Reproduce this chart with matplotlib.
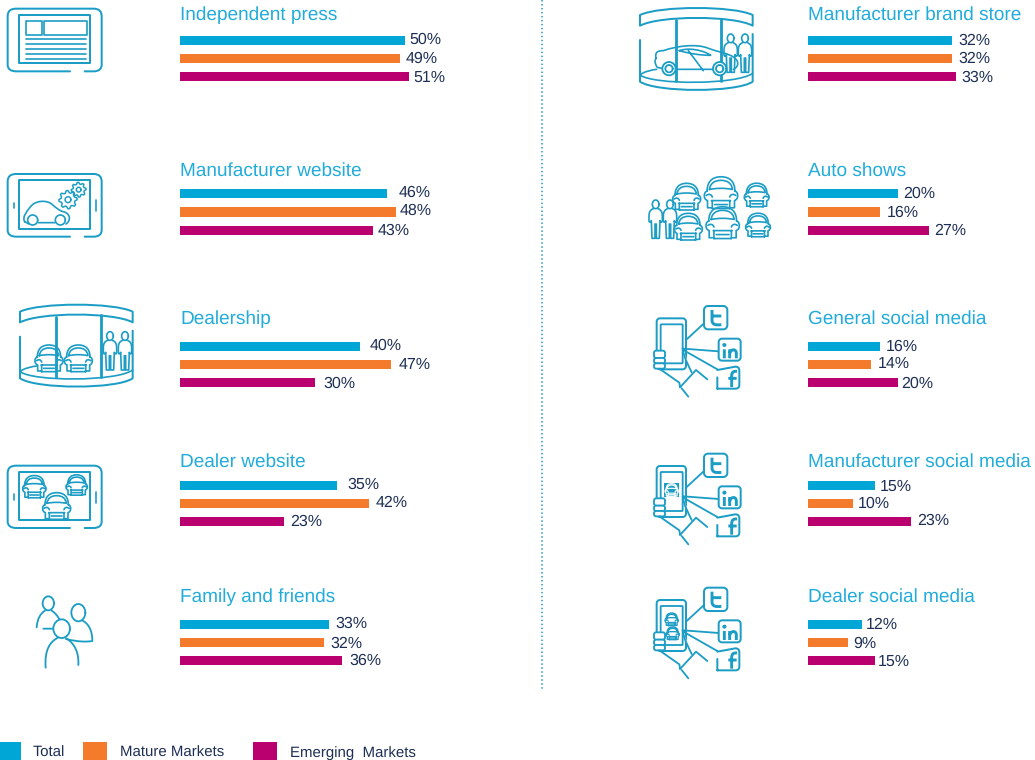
import re
import numpy as np
import matplotlib
matplotlib.use("Agg")
import matplotlib.pyplot as plt
from matplotlib.path import Path
from matplotlib.patches import PathPatch, Rectangle

plt.rcParams['font.family'] = ['Liberation Sans', 'DejaVu Sans']
plt.rcParams['text.hinting'] = 'no_hinting'
plt.rcParams['text.hinting_factor'] = 1

# ---------- data ----------
left_titles = ["Independent press", "Manufacturer website", "Dealership", "Dealer website", "Family and friends"]
right_titles = ["Manufacturer brand store", "Auto shows", "General social media", "Manufacturer social media", "Dealer social media"]
series_names = ["Total", "Mature Markets", "Emerging  Markets"]
total_left = [50, 46, 40, 35, 33]
mature_left = [49, 48, 47, 42, 32]
emerging_left = [51, 43, 30, 23, 36]
total_right = [32, 20, 16, 15, 12]
mature_right = [32, 16, 14, 10, 9]
emerging_right = [33, 27, 20, 23, 15]

# ---------- style / layout ----------
W, H = 1035, 760
C_SER = ["#00A6D6", "#F47B2C", "#B9006E"]
C_TITLE = "#22ACDB"
C_TEXT = "#1E2F55"
ICON = "#1C9DC6"
PX_PER_PCT = 4.485
row_top = [36, 189, 342, 481, 620]
row_h = [45, 46, 45, 45, 45]
title_base = [20, 176, 324, 467, 602]
left_x0, right_x0 = 180.5, 808
lab_dx_left = [[5, 5, 4], [12, 4, 4], [10, 7, 8], [9.5, 7, 7], [7, 6, 7.5]]
lab_dx_right = [[7, 7, 5], [5, 7, 5], [6, 7, 3], [5, 5, 6], [4, 5, 3]]
lab_base_left = [[43.5, 62.5, 82], [196.5, 214.5, 235], [350, 369, 388], [489, 507, 526], [628, 648, 665]]
lab_base_right = [[44.5, 63, 82], [198, 217, 235], [351, 368, 388], [491, 508, 525], [629, 648, 666]]

fig = plt.figure(figsize=(W / 100, H / 100), dpi=100)
bg = fig.add_axes([0, 0, 1, 1], zorder=0)
bg.set_xlim(0, W)
bg.set_ylim(H, 0)
bg.axis("off")


def panel(x0, title, values, top, h, tbase, dxs, bases):
    ax = fig.add_axes([x0 / W, 1 - (top + h) / H, 60 * PX_PER_PCT / W, h / H], zorder=2)
    ax.patch.set_alpha(0)
    ax.set_xlim(0, 60)
    ax.set_ylim(2.25, -0.25)
    ax.axis("off")
    unit = h / 2.5
    for i, v in enumerate(values):
        ax.barh(i, v, height=0.5, color=C_SER[i], linewidth=0)
        centre = top + unit * (i + 0.25)
        ax.annotate(f"{v}%", xy=(v, i), xytext=(dxs[i], centre - bases[i]),
                    textcoords="offset pixels", va="baseline", ha="left",
                    fontsize=11.4, color=C_TEXT, annotation_clip=False)
    bg.text(x0, tbase, title, fontsize=13.8, color=C_TITLE, va="baseline", ha="left")


for k in range(5):
    panel(left_x0, left_titles[k], [total_left[k], mature_left[k], emerging_left[k]],
          row_top[k], row_h[k], title_base[k], lab_dx_left[k], lab_base_left[k])
    panel(right_x0, right_titles[k], [total_right[k], mature_right[k], emerging_right[k]],
          row_top[k], row_h[k], title_base[k], lab_dx_right[k], lab_base_right[k])

# divider
bg.plot([542, 542], [0, 689], color="#2A9FC4", lw=1.1, ls=(0, (1, 1.6)))

# legend
for (xa, xb), c, name, tx in zip([(0, 21), (83, 107), (253, 277)], C_SER, series_names, [33, 120, 290]):
    bg.add_patch(Rectangle((xa, 742), xb - xa, 18, fc=c, lw=0))
    bg.text(tx, 757, name, fontsize=10.7, color=C_TEXT, va="baseline", ha="left")


# ---------- icon helpers (decoration only) ----------
def P(d, ox, oy, s=1 / 3, lx=0, ly=0, f=1.0):
    verts, codes = [], []
    toks = re.findall(r"[MLCZ]|-?\d+\.?\d*", d)
    i = 0
    cmd = None
    while i < len(toks):
        if toks[i] in "MLCZ":
            cmd = toks[i]
            i += 1
            if cmd == "Z":
                verts.append((0, 0))
                codes.append(Path.CLOSEPOLY)
                continue
        n = {"M": 1, "L": 1, "C": 3}[cmd]
        for j in range(n):
            x, y = float(toks[i]), float(toks[i + 1])
            i += 2
            verts.append((ox + (lx + x * f) * s, oy + (ly + y * f) * s))
            codes.append({"M": Path.MOVETO, "L": Path.LINETO, "C": Path.CURVE4}[cmd])
        if cmd == "M":
            cmd = "L"
    return Path(verts, codes)


def S(d, ox, oy, lw=1.1, color=ICON, fill="none", lx=0, ly=0, f=1.0, z=1):
    bg.add_patch(PathPatch(P(d, ox, oy, lx=lx, ly=ly, f=f), fc=fill, ec=color, lw=lw * 1.2,
                           capstyle="round", joinstyle="round", zorder=z))


def rrect(x0, y0, x1, y1, r):
    k = r * 0.45
    return (f"M {x0+r} {y0} L {x1-r} {y0} C {x1-k} {y0} {x1} {y0+k} {x1} {y0+r} L {x1} {y1-r} "
            f"C {x1} {y1-k} {x1-k} {y1} {x1-r} {y1} L {x0+r} {y1} C {x0+k} {y1} {x0} {y1-k} {x0} {y1-r} "
            f"L {x0} {y0+r} C {x0} {y0+k} {x0+k} {y0} {x0+r} {y0} Z")


def ell(cx, cy, rx, ry):
    k = 0.55
    return (f"M {cx+rx} {cy} C {cx+rx} {cy+k*ry} {cx+k*rx} {cy+ry} {cx} {cy+ry} "
            f"C {cx-k*rx} {cy+ry} {cx-rx} {cy+k*ry} {cx-rx} {cy} "
            f"C {cx-rx} {cy-k*ry} {cx-k*rx} {cy-ry} {cx} {cy-ry} "
            f"C {cx+k*rx} {cy-ry} {cx+rx} {cy-k*ry} {cx+rx} {cy}")


CAR = ("M -35 -4 C -35 -28 -22 -40 0 -40 C 22 -40 35 -28 35 -4 "
       "M -29 -8 C -27 -24 -16 -31 0 -31 C 16 -31 27 -24 29 -8 C 10 -12 -10 -12 -29 -8 "
       "M -35 -4 C -41 -2 -42 3 -42 8 C -42 14 -39 18 -34 20 L -34 38 L -26 38 "
       "M 35 -4 C 41 -2 42 3 42 8 C 42 14 39 18 34 20 L 34 38 L 26 38 "
       "M -37 7 C -31 2 -24 4 -22 11 M 37 7 C 31 2 24 4 22 11 "
       "M -24 20 L 24 20 M -22 20 L -22 40 M 22 20 L 22 40 M -16 30 L 16 30 M -22 40 L 22 40")


def car(ox, oy, cx, cy, hw, lw=1.0, color=ICON):
    S(CAR, ox, oy, lw=lw, lx=cx, ly=cy, f=hw / 42, color=color)


def person(ox, oy, cx, top, f=1.0, lw=1.0):
    b = ("M -7 26 C -18 30 -20 38 -20 50 L -20 62 C -20 68 -14 68 -13 62 L -11 115 L -2 115 L -2 72 "
         "M 7 26 C 18 30 20 38 20 50 L 20 62 C 20 68 14 68 13 62 L 11 115 L 2 115 L 2 72")
    S(ell(0, 13, 10, 13), ox, oy, lw=lw, lx=cx, ly=top, f=f)
    S(b, ox, oy, lw=lw, lx=cx, ly=top, f=f)


def tablet(ox, oy, inner=(58, 42, 270, 190), ticks=True):
    x0, y0, x1, y1 = inner
    S(f"M 210 {y1+20} L 50 {y1+20} C 30 {y1+20} 23 {y1+12} 23 {y1} L 23 {y0+6} C 23 {y0-10} 30 {y0-18} 50 {y0-18} "
      f"L 280 {y0-18} C 298 {y0-18} 305 {y0-10} 305 {y0+6} L 305 {y1} C 305 {y1+12} 298 {y1+20} 280 {y1+20} L 254 {y1+20}",
      ox, oy, lw=1.2)
    S(f"M {x0} {y0} L {x1} {y0} L {x1} {y1-4} L {x0} {y1-4} Z", ox, oy, lw=1.2)
    if ticks:
        S(f"M 42 {y0+68} L 42 {y0+84} M 287 {y0+60} L 287 {y0+94}", ox, oy, lw=1.0)


def gear(ox, oy, cx, cy, r, n=8):
    a = np.linspace(0, 2 * np.pi, n * 4, endpoint=False) + 0.2
    rad = np.tile([r, r, r * 1.3, r * 1.3], n)
    pts = [(cx + q * np.cos(t), cy + q * np.sin(t)) for q, t in zip(rad, a)]
    d = "M " + " L ".join(f"{x:.2f} {y:.2f}" for x, y in pts) + " Z"
    S(d, ox, oy, lw=0.9)
    S(ell(cx, cy, r * 0.42, r * 0.42), ox, oy, lw=0.9)


def showroom(ox, oy):
    S("M 60 65 C 120 37 340 37 398 65 L 398 97 C 340 66 120 66 60 97 Z", ox, oy, lw=1.2)
    S("M 168 80 L 168 262 M 302 76 L 302 262", ox, oy, lw=1.7)
    S("M 60 140 L 60 265 C 110 298 350 298 398 265 L 398 122", ox, oy, lw=1.2)
    S("M 60 245 C 100 275 350 275 398 240 M 60 245 C 70 235 95 230 110 228", ox, oy, lw=1.0)


def phone(ox, oy):
    S(rrect(110, 85, 198, 238, 10), ox, oy, lw=1.2, fill="white")
    S(rrect(122, 103, 188, 220, 2), ox, oy, lw=1.1)
    S("M 188 175 C 192 205 205 225 215 247", ox, oy, lw=1.1, fill="white")
    for a, b in [(182, 204), (204, 220), (220, 236)]:
        S(rrect(102, a, 135, b, 6), ox, oy, lw=1.1, fill="white")
    S("M 118 236 L 178 278 L 180 290 M 180 292 L 228 240 L 262 268 M 185 295 L 205 320", ox, oy, lw=1.1)
    S("M 198 150 L 252 100 M 190 176 L 296 184 M 190 180 L 292 238", ox, oy, lw=1.1)
    S(rrect(252, 48, 322, 118, 12), ox, oy, lw=1.2, fill="white", z=2)
    S(rrect(296, 146, 362, 212, 10), ox, oy, lw=1.2, fill="white", z=2)
    S("M 292 296 L 346 296 C 354 296 358 292 358 284 L 358 242 C 358 234 354 230 346 230 L 292 240 "
      "M 292 296 L 292 262", ox, oy, lw=1.2, z=2)
    t = "M 276 60 L 276 90 C 276 104 286 106 304 104 M 276 78 L 304 78"
    i_ = "M 313 178 L 313 205 M 329 205 L 329 178 M 329 190 C 333 176 349 176 349 190 L 349 205"
    fl = "M 335 291 L 335 258 C 335 246 341 243 351 244 M 325 265 L 350 265"
    for d in (t, i_, fl):
        bg.add_patch(PathPatch(P(d, ox, oy), fc="none", ec=ICON, lw=2.1, capstyle="butt", joinstyle="round", zorder=3))
    S(ell(313, 165, 3, 3), ox, oy, lw=1.2, z=4, fill=ICON)


# tablet 1: newspaper
ox, oy = 0, 0
tablet(ox, oy, inner=(58, 44, 270, 194), ticks=False)
S("M 79 62 L 125 62 L 125 106 L 79 106 Z M 131 62 L 260 62 L 260 106 L 131 106 Z", ox, oy, lw=1.0)
S("M 79 116 L 258 116 M 79 131 L 258 131 M 79 146 L 258 146 M 79 161 L 258 161 M 79 176 L 258 176", ox, oy, lw=1.0)

# tablet 2: configurator
tablet(0, 0, inner=(58, 540, 270, 690))
S("M 74 665 C 66 650 80 635 90 622 C 105 600 140 600 155 612 C 170 625 178 632 190 635 C 210 640 215 660 198 672 "
  "M 87 672 L 74 665 M 115 668 L 165 668", 0, 0, lw=1.0)
S(ell(98, 660, 15, 15), 0, 0, lw=1.0)
S(ell(181, 660, 15, 15), 0, 0, lw=1.0)
gear(0, 0, 204, 599, 21)
gear(0, 0, 236, 569, 17)

# showroom 1
showroom(0, 290)
car(0, 290, 147, 205, 42)
car(0, 290, 235, 205, 42)
person(0, 290, 330, 125)
person(0, 290, 375, 125)

# tablet 3: dealer website
tablet(0, 290, inner=(58, 545, 270, 694))
car(0, 290, 103, 590, 35)
car(0, 290, 230, 585, 32)
car(0, 290, 170, 648, 42)

# family
fo = 570
S(ell(145, 100, 17, 21), 0, fo, lw=1.1)
S("M 110 172 C 112 145 122 130 135 122 M 155 122 C 165 128 175 140 180 152 M 130 176 L 160 176", 0, fo, lw=1.1)
S(ell(235, 128, 21, 26), 0, fo, lw=1.1)
S("M 246 151 C 265 160 277 180 277 213 C 260 216 235 216 198 207", 0, fo, lw=1.1)
S(ell(185, 176, 25, 28), 0, fo, lw=1.1, fill="white")
S("M 174 203 C 150 215 133 240 137 293 M 198 205 C 225 220 237 250 235 285", 0, fo, lw=1.1)

# showroom 2 with sports car
so = -6.67
showroom(620, so)
S("M 108 195 C 105 178 110 172 130 172 C 170 158 230 150 265 165 C 290 175 330 180 345 195 C 358 205 355 222 340 228 "
  "M 125 225 L 112 222 C 104 212 104 200 108 195 M 170 228 L 280 228 "
  "M 178 172 C 205 162 250 170 272 186 C 240 186 205 180 178 172 M 205 172 L 250 232", 620, so, lw=1.0)
for cx in (147, 299):
    S(ell(cx, 226, 20, 20), 620, so, lw=1.1, fill="white")
    S(ell(cx, 226, 11, 11), 620, so, lw=1.1)
person(620, so, 332, 122)
person(620, so, 375, 122)

# auto show
for cx, cy, hw in [(200, 590, 42), (303, 578, 50), (410, 585, 37), (205, 680, 42), (308, 668, 50), (414, 675, 37)]:
    car(620, 0, cx, cy, hw)
person(620, 0, 107, 600)
person(620, 0, 150, 600)

# phones
phone(620, 290)
phone(620, 290 + 147.67)
bg.add_patch(PathPatch(P("M 132 135 L 178 135 L 178 179 L 132 179 Z", 620, 437.67), fc=ICON, lw=0, zorder=2))
S(CAR, 620, 437.67, lw=0.7, color="white", lx=155, ly=157, f=20 / 42, z=3)
phone_cars_y = 290 + 281.67
phone(620, phone_cars_y)
car(620, phone_cars_y, 155, 143, 20, lw=0.8)
car(620, phone_cars_y, 158, 185, 20, lw=0.8)

fig.savefig("out.png", dpi=100)
